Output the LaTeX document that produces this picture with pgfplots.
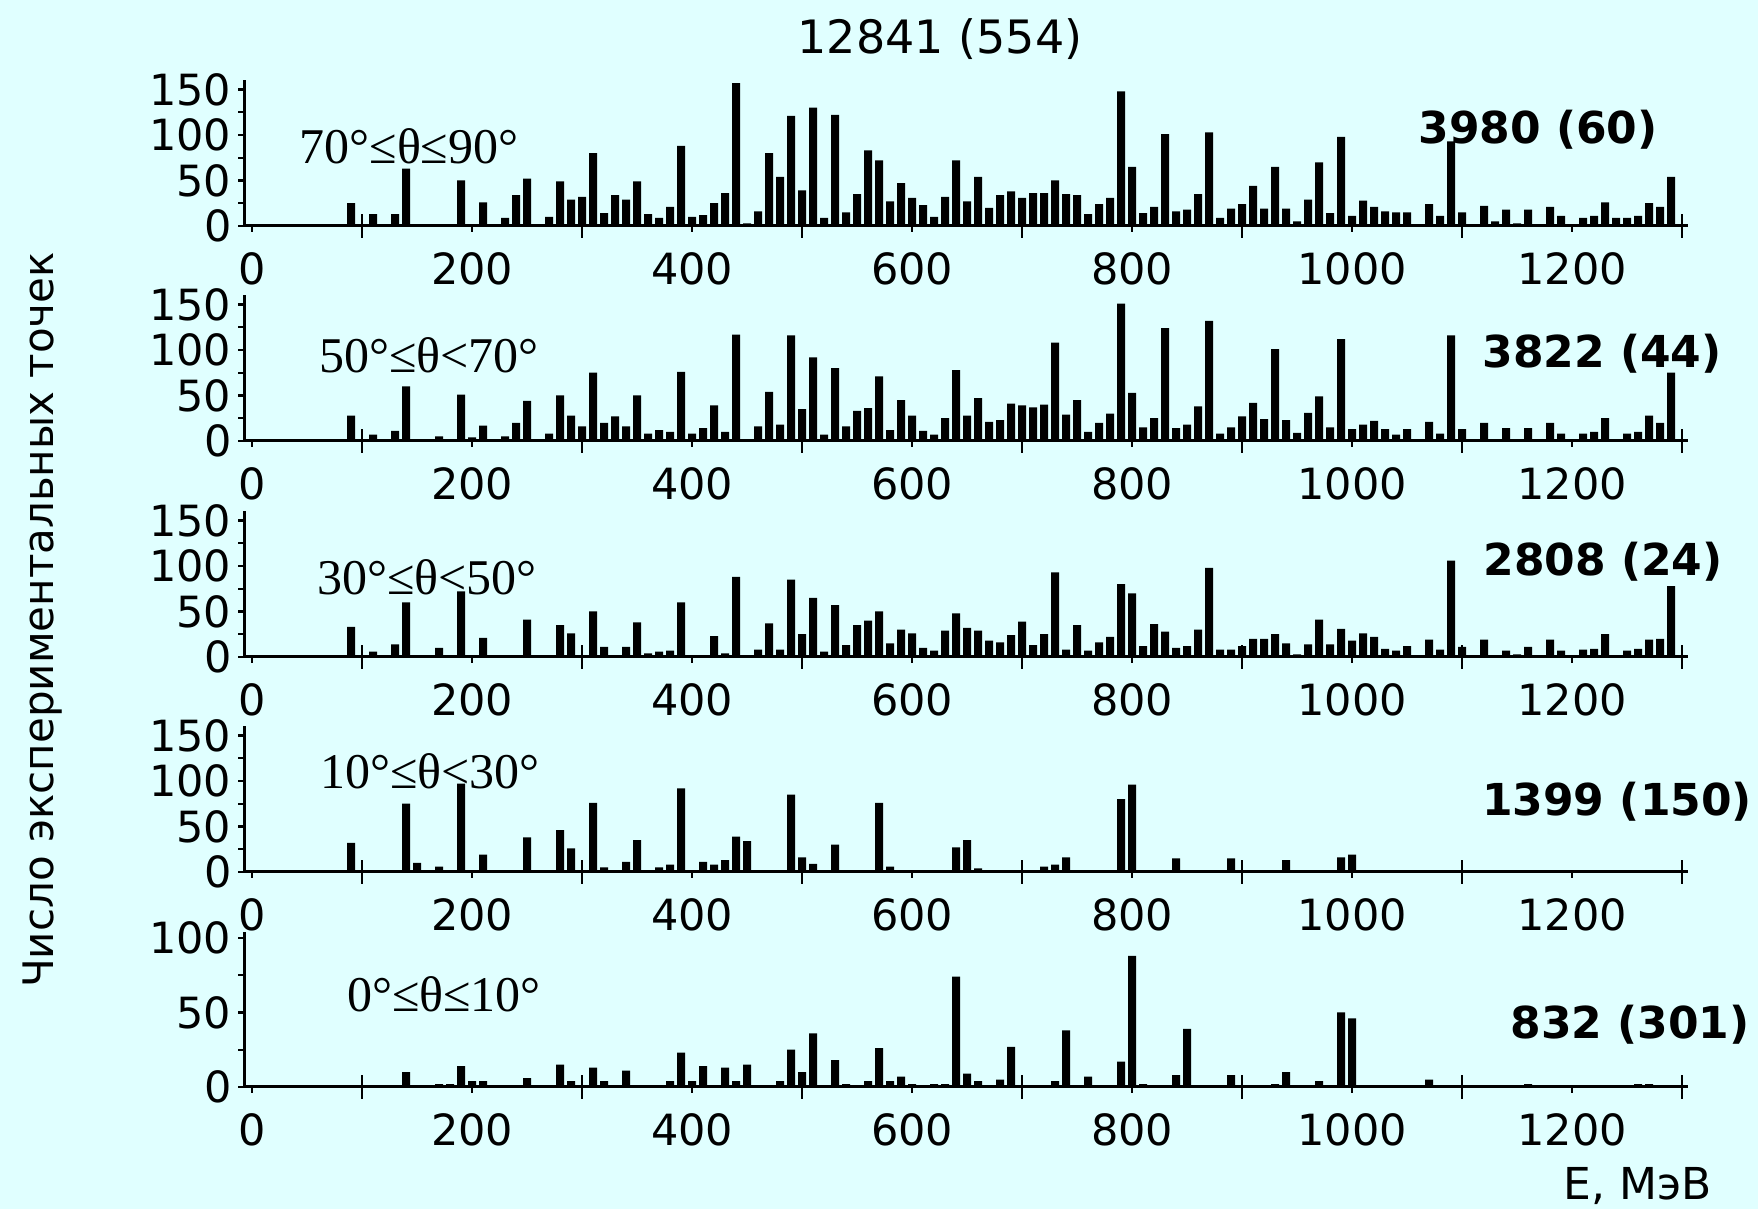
\documentclass[border=0pt]{standalone}
\usepackage{pgfplots}
\pgfplotsset{compat=1.18}
\usepackage{fontspec}
\setmainfont{DejaVu Sans}
\newfontfamily\angfont{Liberation Serif}
\definecolor{bg}{RGB}{224,255,255}

\pgfplotsset{panel/.style={
 scale only axis, width=721.6bp, height=72.8bp,
 xmin=-7, xmax=1305, ymin=0, ymax=160,
 axis lines=left, axis line style={-, line width=1.5bp, black},
 every tick/.style={black, line width=1.2bp},
 major tick length=3bp, minor tick length=3bp,
 tick align=outside,
 xtick={0,200,400,600,800,1000,1200}, xticklabels={0,200,400,600,800,1000,1200},
 extra x ticks={100,300,500,700,900,1100,1300}, extra x tick labels={},
 extra x tick style={major tick length=12bp, tick align=center},
 ytick={0,50,100,150}, yticklabels={0,50,100,150}, minor ytick={25,75,125},
 tick label style={font=\fontsize{21.5bp}{24bp}\selectfont},
 xticklabel style={yshift=-7bp},
}}
\tikzset{bars/.style={ybar, bar width=7.2, fill=black, draw=none}}

\begin{document}
\begin{tikzpicture}
\fill[bg] (0,0) rectangle (879bp,604.5bp);

% Panel 1
\begin{axis}[panel, at={(122.2bp,491.5bp)}, anchor=south west]
\addplot[bars] coordinates {(90,25)(110,13)(130,13)(140,63)(150,2)(170,1)(190,50)(200,1)(210,26)(220,1)(230,9)(240,34)(250,52)(260,1)(270,10)(280,49)(290,29)(300,32)(310,80)(320,14)(330,34)(340,29)(350,49)(360,13)(370,9)(380,21)(390,88)(400,10)(410,12)(420,25)(430,36)(440,157)(450,3)(460,16)(470,80)(480,54)(490,121)(500,39)(510,130)(520,9)(530,122)(540,15)(550,35)(560,83)(570,72)(580,27)(590,47)(600,31)(610,23)(620,10)(630,32)(640,72)(650,27)(660,54)(670,20)(680,34)(690,38)(700,31)(710,36)(720,36)(730,50)(740,35)(750,34)(760,13)(770,24)(780,31)(790,148)(800,65)(810,14)(820,21)(830,101)(840,16)(850,18)(860,35)(870,103)(880,9)(890,19)(900,24)(910,44)(920,19)(930,65)(940,19)(950,5)(960,29)(970,70)(980,14)(990,98)(1000,11)(1010,28)(1020,21)(1030,16)(1040,15)(1050,15)(1070,24)(1080,11)(1090,93)(1100,15)(1120,22)(1130,5)(1140,18)(1150,3)(1160,18)(1180,21)(1190,11)(1210,9)(1220,11)(1230,26)(1240,9)(1250,9)(1260,11)(1270,25)(1280,21)(1290,54)};
\end{axis}

% Panel 2
\begin{axis}[panel, at={(122.2bp,384bp)}, anchor=south west]
\addplot[bars] coordinates {(90,28)(110,7)(120,1)(130,11)(140,60)(150,2)(170,5)(190,51)(200,4)(210,17)(230,5)(240,20)(250,44)(260,1)(270,8)(280,50)(290,28)(300,16)(310,75)(320,20)(330,27)(340,16)(350,50)(360,8)(370,12)(380,10)(390,76)(400,8)(410,14)(420,39)(430,10)(440,117)(450,2)(460,16)(470,54)(480,18)(490,116)(500,35)(510,92)(520,7)(530,80)(540,16)(550,33)(560,36)(570,71)(580,12)(590,45)(600,28)(610,11)(620,7)(630,25)(640,78)(650,28)(660,47)(670,21)(680,23)(690,41)(700,39)(710,37)(720,40)(730,108)(740,29)(750,45)(760,10)(770,20)(780,30)(790,151)(800,53)(810,15)(820,25)(830,124)(840,14)(850,18)(860,38)(870,132)(880,8)(890,15)(900,27)(910,42)(920,24)(930,101)(940,23)(950,9)(960,31)(970,49)(980,15)(990,112)(1000,13)(1010,18)(1020,22)(1030,13)(1040,7)(1050,13)(1070,21)(1080,8)(1090,116)(1100,13)(1120,20)(1130,2)(1140,14)(1150,2)(1160,14)(1180,20)(1190,8)(1200,1)(1210,8)(1220,10)(1230,25)(1250,8)(1260,10)(1270,28)(1280,20)(1290,75)};
\end{axis}

% Panel 3
\begin{axis}[panel, at={(122.2bp,276bp)}, anchor=south west]
\addplot[bars] coordinates {(80,1)(90,33)(110,6)(120,2)(130,14)(140,60)(150,2)(170,10)(190,72)(200,2)(210,21)(250,41)(260,1)(270,1)(280,35)(290,26)(310,50)(320,11)(330,2)(340,11)(350,38)(360,4)(370,6)(380,7)(390,60)(400,2)(410,2)(420,23)(430,4)(440,88)(450,1)(460,8)(470,37)(480,8)(490,85)(500,25)(510,65)(520,6)(530,57)(540,13)(550,35)(560,40)(570,50)(580,15)(590,30)(600,26)(610,10)(620,7)(630,29)(640,48)(650,32)(660,29)(670,18)(680,16)(690,24)(700,39)(710,13)(720,25)(730,93)(740,8)(750,35)(760,7)(770,16)(780,22)(790,80)(800,70)(810,12)(820,36)(830,28)(840,10)(850,12)(860,30)(870,98)(880,8)(890,8)(900,12)(910,20)(920,20)(930,25)(940,15)(950,3)(960,14)(970,41)(980,14)(990,31)(1000,18)(1010,26)(1020,22)(1030,9)(1040,7)(1050,12)(1060,1)(1070,19)(1080,8)(1090,106)(1100,11)(1120,19)(1130,2)(1140,7)(1150,3)(1160,11)(1180,19)(1190,7)(1200,1)(1210,8)(1220,9)(1230,25)(1240,1)(1250,7)(1260,9)(1270,19)(1280,20)(1290,78)};
\end{axis}

% Panel 4
\begin{axis}[panel, at={(122.2bp,168.5bp)}, anchor=south west]
\addplot[bars] coordinates {(90,32)(110,2)(130,2)(140,75)(150,10)(170,6)(190,97)(200,1)(210,19)(250,38)(260,1)(270,1)(280,46)(290,26)(310,76)(320,5)(340,11)(350,35)(370,5)(380,8)(390,92)(400,1)(410,11)(420,8)(430,13)(440,39)(450,34)(460,2)(470,1)(490,85)(500,16)(510,9)(520,1)(530,30)(560,2)(570,76)(580,6)(590,1)(620,1)(640,27)(650,35)(660,4)(680,1)(690,1)(720,6)(730,8)(740,16)(760,1)(770,1)(790,80)(800,96)(820,2)(840,15)(870,1)(890,15)(920,1)(940,13)(970,2)(990,16)(1000,19)(1010,1)(1040,1)(1070,1)(1090,2)(1160,1)(1260,1)(1290,2)};
\end{axis}

% Panel 5
\begin{axis}[panel, at={(122.2bp,61bp)}, anchor=south west, height=77.5bp, ymax=104,
  ytick={0,50,100}, yticklabels={0,50,100}, minor ytick={25,75}]
\addplot[bars] coordinates {(90,1)(120,1)(130,1)(140,10)(160,1)(170,2)(180,2)(190,14)(200,4)(210,4)(230,1)(250,6)(260,1)(280,15)(290,4)(310,13)(320,4)(340,11)(350,1)(360,1)(370,1)(380,4)(390,23)(400,4)(410,14)(420,1)(430,13)(440,4)(450,15)(460,1)(470,1)(480,4)(490,25)(500,10)(510,36)(520,1)(530,18)(540,2)(550,1)(560,4)(570,26)(580,4)(590,7)(600,2)(620,2)(630,2)(640,74)(650,9)(660,4)(670,1)(680,5)(690,27)(710,1)(730,4)(740,38)(750,1)(760,7)(780,1)(790,17)(800,88)(810,2)(830,1)(840,8)(850,39)(890,8)(910,1)(920,1)(930,2)(940,10)(960,1)(970,4)(990,50)(1000,46)(1010,1)(1020,1)(1030,1)(1070,5)(1090,1)(1140,1)(1160,2)(1170,1)(1210,1)(1240,1)(1260,2)(1270,2)(1280,1)};
\end{axis}

% Texts
\node[inner sep=0, font=\fontsize{23bp}{26bp}\selectfont] at (470bp,585bp) {12841 (554)};
\node[inner sep=0, rotate=90, font=\fontsize{21bp}{24bp}\selectfont] at (21.3bp,294.5bp) {Число экспериментальных точек};
\node[inner sep=0, font=\fontsize{22bp}{25bp}\selectfont] at (819bp,11.5bp) {E, МэВ};

\begin{scope}[every node/.style={inner sep=0, font=\angfont\fontsize{25bp}{28bp}\selectfont}]
\node at (204.5bp,531.5bp) {70°≤θ≤90°};
\node at (214.5bp,427bp) {50°≤θ<70°};
\node at (213.5bp,316bp) {30°≤θ<50°};
\node at (215bp,219bp) {10°≤θ<30°};
\node at (222bp,107.3bp) {0°≤θ≤10°};
\end{scope}

\begin{scope}[every node/.style={inner sep=0, font=\bfseries\fontsize{22bp}{25bp}\selectfont}]
\node at (769bp,539.5bp) {3980 (60)};
\node at (801bp,427.5bp) {3822 (44)};
\node at (801.5bp,323.5bp) {2808 (24)};
\node at (808.5bp,203.5bp) {1399 (150)};
\node at (815bp,92bp) {832 (301)};
\end{scope}

\pgfresetboundingbox
\useasboundingbox (0,0) rectangle (879bp,604.5bp);
\end{tikzpicture}
\end{document}
